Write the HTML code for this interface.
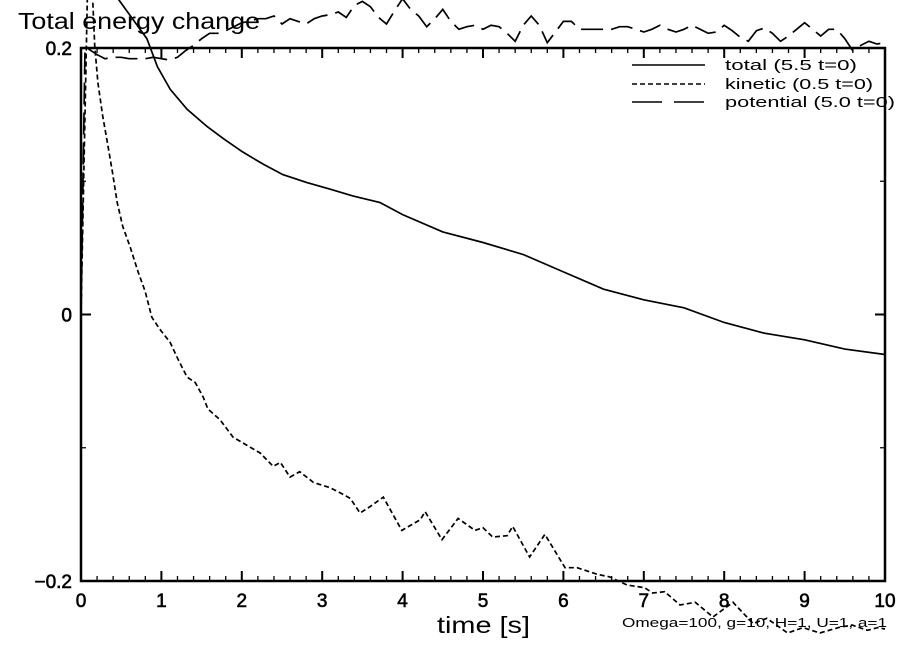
<!DOCTYPE html>
<html><head><meta charset="utf-8"><style>
html,body{margin:0;padding:0;background:#fff;}
svg{display:block;font-family:"Liberation Sans",sans-serif;}
</style></head><body>
<svg id="chart" width="904" height="654" viewBox="0 0 904 654">
<text x="18" y="29" font-size="23" textLength="242" lengthAdjust="spacingAndGlyphs">Total energy change</text>
<g id="axes"></g>
<g id="series"></g>
<g id="legend">
<line x1="632" y1="65" x2="705" y2="65" stroke="#000" stroke-width="1.6"/>
<text x="725" y="70" font-size="15" textLength="132" lengthAdjust="spacingAndGlyphs">total (5.5 t=0)</text>
<line x1="632" y1="84" x2="705" y2="84" stroke="#000" stroke-width="1.6" stroke-dasharray="5,3"/>
<text x="725" y="89" font-size="15" textLength="148" lengthAdjust="spacingAndGlyphs">kinetic (0.5 t=0)</text>
<line x1="632" y1="102" x2="705" y2="102" stroke="#000" stroke-width="1.6" stroke-dasharray="30,12"/>
<text x="725" y="107" font-size="15" textLength="170" lengthAdjust="spacingAndGlyphs">potential (5.0 t=0)</text>
</g>
<text x="437" y="633" font-size="23" textLength="93" lengthAdjust="spacingAndGlyphs">time [s]</text>
<text x="622" y="627" font-size="13" textLength="265" lengthAdjust="spacingAndGlyphs">Omega=100, g=10, H=1, U=1, a=1</text>
</svg>
<script>
const xTicks=[0,1,2,3,4,5,6,7,8,9,10];
const yTicks=[0.2,0,-0.2];
const yTickLabels=["0.2","0","\u22120.2"];
const yMinorTicks=[0.1,-0.1];
const totalTime=[0,0.1,0.3,0.46,0.82,0.95,1.11,1.32,1.57,1.77,2.01,2.26,2.51,2.81,3.10,3.38,3.72,4,4.5,5,5.5,6,6.5,7,7.5,8,8.5,9,9.5,10];
const totalValue=[0.45,0.33,0.26,0.237,0.207,0.186,0.169,0.154,0.141,0.132,0.122,0.113,0.105,0.099,0.094,0.089,0.084,0.075,0.062,0.054,0.045,0.032,0.019,0.011,0.005,-0.006,-0.014,-0.019,-0.026,-0.030];
const kinTime=[0,0.1,0.17,0.21,0.27,0.32,0.39,0.45,0.52,0.61,0.71,0.80,0.88,0.98,1.11,1.21,1.32,1.42,1.52,1.58,1.73,1.89,2.06,2.23,2.39,2.48,2.60,2.72,2.89,3.10,3.26,3.35,3.47,3.60,3.76,3.99,4.22,4.28,4.49,4.69,4.90,5.00,5.12,5.30,5.37,5.58,5.77,6.02,6.17,6.42,6.58,6.79,7.01,7.11,7.26,7.45,7.64,7.86,8.11,8.36,8.53,8.79,8.98,9.19,9.42,9.59,9.78,9.91,10];
const kinValue=[0,0.30,0.202,0.174,0.149,0.132,0.107,0.084,0.066,0.051,0.032,0.017,-0.002,-0.011,-0.021,-0.034,-0.047,-0.051,-0.062,-0.071,-0.079,-0.092,-0.098,-0.104,-0.114,-0.111,-0.122,-0.118,-0.126,-0.130,-0.135,-0.138,-0.149,-0.144,-0.137,-0.162,-0.154,-0.148,-0.169,-0.153,-0.162,-0.160,-0.167,-0.166,-0.159,-0.182,-0.165,-0.190,-0.190,-0.195,-0.197,-0.203,-0.205,-0.209,-0.208,-0.218,-0.216,-0.227,-0.216,-0.232,-0.228,-0.239,-0.235,-0.239,-0.235,-0.233,-0.237,-0.235,-0.236];
const potTime=[0,0.05,0.1,0.2,0.3,0.4,0.5,0.6,0.7,0.8,0.9,1.0,1.1,1.2,1.3,1.4,1.5,1.6,1.7,1.8,1.9,2.0,2.1,2.2,2.3,2.4,2.5,2.6,2.7,2.8,2.9,3.0,3.1,3.2,3.3,3.4,3.5,3.6,3.7,3.8,3.9,4.0,4.1,4.2,4.3,4.4,4.5,4.6,4.7,4.8,4.9,5.0,5.1,5.2,5.3,5.4,5.5,5.6,5.7,5.8,5.9,6.0,6.1,6.2,6.3,6.4,6.5,6.6,6.7,6.8,6.9,7.0,7.1,7.2,7.3,7.4,7.5,7.6,7.7,7.8,7.9,8.0,8.1,8.2,8.3,8.4,8.5,8.6,8.7,8.8,8.9,9.0,9.1,9.2,9.3,9.4,9.5,9.6,9.7,9.8,9.9,10];
const potValue=[0,0.2,0.199,0.195,0.192,0.193,0.193,0.192,0.192,0.192,0.193,0.192,0.191,0.193,0.198,0.202,0.207,0.211,0.211,0.213,0.216,0.219,0.220,0.222,0.222,0.224,0.218,0.222,0.220,0.218,0.222,0.224,0.225,0.227,0.223,0.232,0.235,0.231,0.223,0.218,0.228,0.237,0.229,0.224,0.216,0.222,0.229,0.220,0.214,0.216,0.217,0.214,0.217,0.216,0.211,0.205,0.217,0.224,0.217,0.204,0.212,0.220,0.220,0.214,0.214,0.214,0.214,0.214,0.216,0.216,0.214,0.212,0.214,0.217,0.214,0.212,0.214,0.217,0.214,0.211,0.212,0.217,0.213,0.208,0.205,0.213,0.215,0.211,0.205,0.209,0.214,0.219,0.214,0.209,0.214,0.214,0.207,0.198,0.202,0.205,0.203,0.204];

const NS="http://www.w3.org/2000/svg";
const X0=81,X1=885,Y0=581,Y1=48;
const xs=t=>X0+(t-0)/(10-0)*(X1-X0);
const ys=v=>Y0-(v+0.2)/0.4*(Y0-Y1);
function mk(tag,attrs,parent){const e=document.createElementNS(NS,tag);for(const k in attrs)e.setAttribute(k,attrs[k]);parent.appendChild(e);return e;}
const axes=document.getElementById('axes');
const frame=mk('path',{d:`M${X0},${Y1}H${X1}V${Y0}H${X0}Z`,fill:'none',stroke:'#000','stroke-width':2.5},axes);


for(let i=0;i<=50;i++){
  const t=i*0.2;const major=i%5===0;const L=major?10:5;const x=xs(t);
  const tk=mk('path',{d:`M${x},${Y0}v${-L}M${x},${Y1}v${L}`,stroke:'#000','stroke-width':major?2:1.3},axes);
  
  
}
xTicks.forEach(t=>{
  const tx=mk('text',{x:xs(t),y:607,'font-size':19,'text-anchor':'middle',stroke:'#000','stroke-width':0.6},axes);tx.textContent=String(t);
  
  
});
yTicks.forEach((v,i)=>{
  const y=ys(v);
  const tk=mk('path',{d:`M${X0},${y}h10M${X1},${y}h-10`,stroke:'#000','stroke-width':2},axes);
  
  
  const tx=mk('text',{x:72,y:y+7,'font-size':19,'text-anchor':'end',stroke:'#000','stroke-width':0.6},axes);tx.textContent=yTickLabels[i];
  
  
});
yMinorTicks.forEach(v=>{
  const y=ys(v);
  const tk=mk('path',{d:`M${X0},${y}h5M${X1},${y}h-5`,stroke:'#000','stroke-width':1.3},axes);
  
  
});
const ser=document.getElementById('series');
function line(T,V,dash,name){
  const d=T.map((t,i)=>(i?'L':'M')+xs(t).toFixed(1)+','+ys(V[i]).toFixed(1)).join('');
  const p=mk('path',{d:d,fill:'none',stroke:'#000','stroke-width':1.7},ser);
  if(dash)p.setAttribute('stroke-dasharray',dash);
  
  
}
line(totalTime,totalValue,null,'total-energy-line');
line(kinTime,kinValue,'5,3','kinetic-energy-line');
line(potTime,potValue,'22,8','potential-energy-line');
</script>
</body></html>
